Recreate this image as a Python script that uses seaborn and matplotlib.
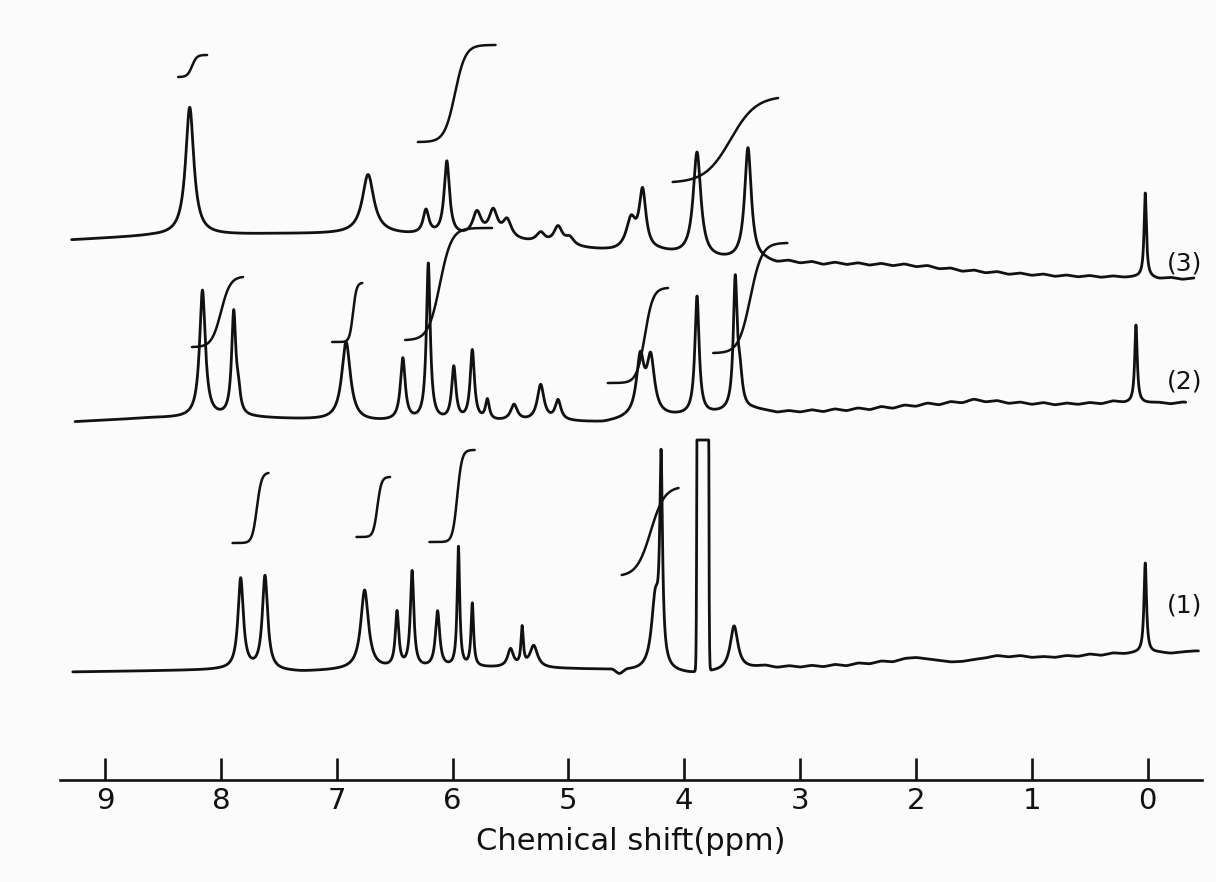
import numpy as np
import matplotlib
matplotlib.use("Agg")
import matplotlib.pyplot as plt
import seaborn as sns

sns.set_theme(style="white")
plt.rcParams['font.family'] = ['DejaVu Sans']

# ---------------- axis / text ----------------
tick_values = [9, 8, 7, 6, 5, 4, 3, 2, 1, 0]
tick_labels = ["9", "8", "7", "6", "5", "4", "3", "2", "1", "0"]
x_label = "Chemical shift(ppm)"
spectrum_names = ["(3)", "(2)", "(1)"]
name_levels = [516, 399, 174]

# shared ppm positions of the baseline ripple (right-hand flat region)
ripple_ppm = [3.30, 3.20, 3.10, 3.00, 2.90, 2.80, 2.70, 2.60, 2.50, 2.40, 2.30, 2.20, 2.10,
              2.00, 1.90, 1.80, 1.70, 1.60, 1.50, 1.40, 1.30, 1.20, 1.10, 1.00, 0.90, 0.80,
              0.70, 0.60, 0.50, 0.40, 0.30, 0.20, 0.10, 0.00, -0.10, -0.20, -0.30, -0.40]

# ---------------- spectrum (3) ----------------
s3_peak_ppm = [8.27, 6.73, 6.23, 6.05, 5.79, 5.65, 5.53, 5.24, 5.09, 4.99, 4.46, 4.36, 3.89, 3.45, 0.02]
s3_peak_height = [128, 59, 24, 74, 24, 26, 18, 10, 18, 8, 30, 58, 105, 113, 84]
s3_peak_hw = [0.043, 0.06, 0.03, 0.028, 0.045, 0.045, 0.045, 0.045, 0.045, 0.045, 0.05, 0.035, 0.04, 0.035, 0.012]
s3_peak_shape = ["L"] * 15
s3_base_ppm = [9.30, 8.60, 7.50, 6.60, 5.60, 5.00, 4.60, 4.20, 3.80, 3.40]
s3_base_level = [540, 544, 546, 546, 540, 532, 528, 527, 520, 518]
s3_ripple_level = [518, 516, 518.5, 516, 518, 515, 517.5, 515, 517, 514.5, 516.5, 514, 516,
                   513, 514.5, 511, 512, 508.5, 510, 507, 508.5, 505.5, 507, 504.5, 506, 503.5,
                   505, 503, 504.5, 502.5, 504, 502.5, 503, 503, 501, 502.5, 500.5, 502]
s3_span = (9.29, -0.40)
s3_int_from = [8.37, 6.30, 4.10]
s3_int_to = [8.12, 5.63, 3.19]
s3_int_lo = [703, 638, 598]
s3_int_hi = [725, 735, 682]
s3_int_mid = [8.25, 5.98, 3.60]
s3_int_sharp = [0.04, 0.09, 0.22]

# ---------------- spectrum (2) ----------------
s2_peak_ppm = [8.16, 7.89, 7.85, 6.92, 6.43, 6.21, 5.99, 5.83, 5.70, 5.47, 5.24, 5.09, 4.38, 4.29, 3.89, 3.56, 3.52, 0.10]
s2_peak_height = [127, 103, 18, 79, 62, 157, 53, 70, 20, 16, 36, 20, 58, 56, 118, 128, 30, 78]
s2_peak_hw = [0.03, 0.022, 0.02, 0.045, 0.025, 0.02, 0.022, 0.022, 0.02, 0.035, 0.035, 0.03, 0.04, 0.04, 0.022, 0.02, 0.025, 0.013]
s2_peak_shape = ["L"] * 18
s2_base_ppm = [9.30, 8.60, 7.70, 7.20, 6.80, 6.00, 5.00, 4.70, 4.50, 3.80, 3.40]
s2_base_level = [358, 362, 362, 360, 358, 358, 358, 357, 360, 365, 370]
s2_ripple_level = [369, 367, 369, 367.5, 370, 368, 371, 369, 372, 370, 373.5, 371.5, 375,
                   373.5, 377, 375, 378.5, 377, 381, 378, 379.5, 376.5, 378, 375.5, 377.5, 375,
                   377, 375.5, 377.5, 376, 379, 377, 377, 377, 377.5, 376, 378, 377]
s2_span = (9.26, -0.33)
s2_int_from = [8.25, 7.04, 6.41, 4.66, 3.75]
s2_int_to = [7.81, 6.78, 5.66, 4.14, 3.11]
s2_int_lo = [433, 438, 440, 397, 427]
s2_int_hi = [503, 497, 552, 492, 537]
s2_int_mid = [8.00, 6.86, 6.11, 4.34, 3.43]
s2_int_sharp = [0.08, 0.03, 0.10, 0.07, 0.10]

# ---------------- spectrum (1) ----------------
s1_peak_ppm = [7.83, 7.62, 6.76, 6.48, 6.35, 6.13, 5.95, 5.83, 5.50, 5.40, 5.30, 4.25, 4.20, 3.84, 3.57, 0.02]
s1_peak_height = [91, 94, 79, 55, 96, 56, 120, 63, 18, 38, 22, 70, 196, 1e6, 44, 90]
s1_peak_hw = [0.028, 0.028, 0.04, 0.018, 0.018, 0.022, 0.013, 0.013, 0.03, 0.012, 0.04, 0.04, 0.014, 0.0127, 0.04, 0.013]
s1_peak_shape = ["L"] * 13 + ["G"] + ["L"] * 2
s1_clip_level = 340
s1_base_ppm = [9.30, 8.00, 7.30, 6.90, 5.70, 5.00, 4.62, 4.56, 4.50, 3.95, 3.70, 3.40]
s1_base_level = [108, 110, 108, 110, 112, 111, 110, 104, 109, 106, 108, 112]
s1_ripple_level = [114, 112, 114, 112.5, 114.5, 113, 115.5, 114, 117, 116, 119, 118, 121.5,
                   122.5, 121, 119.5, 118, 118.5, 120.5, 122, 124.5, 123, 124.5, 122.5, 123.5, 122.5,
                   124.5, 123.5, 126, 124.5, 127, 126, 127, 127, 127.5, 126.5, 128, 129]
s1_span = (9.28, -0.44)
s1_int_from = [7.90, 6.83, 6.20, 4.54]
s1_int_to = [7.59, 6.54, 5.81, 4.05]
s1_int_lo = [237, 243, 238, 205]
s1_int_hi = [307, 303, 330, 292]
s1_int_mid = [7.69, 6.65, 5.96, 4.29]
s1_int_sharp = [0.04, 0.035, 0.04, 0.12]

# ---------------- helpers ----------------
ppm = np.linspace(9.39, -0.47, 9000)


def build_trace(base_ppm, base_level, ripple_level, pk_ppm, pk_h, pk_w, pk_shape, span, clip=None):
    bp = np.array(list(base_ppm) + list(ripple_ppm))
    bl = np.array(list(base_level) + list(ripple_level))
    order = np.argsort(bp)
    base = np.interp(ppm, bp[order], bl[order])
    k = 61
    kern = np.hanning(k)
    kern /= kern.sum()
    base = np.convolve(np.pad(base, k // 2, mode='edge'), kern, mode='valid')
    sig = np.zeros_like(ppm)
    for c, h, w, shp in zip(pk_ppm, pk_h, pk_w, pk_shape):
        d = (ppm - c) / w
        if shp == "G":
            sig += h * np.exp(-0.5 * d ** 2)
        else:
            sig += h / (1.0 + d ** 2)
    y = base + sig
    if clip is not None:
        y = np.minimum(y, clip)
    m = (ppm <= span[0]) & (ppm >= span[1])
    return ppm[m], y[m]


def build_integral(f, t, lo, hi, mid, s):
    xs = np.linspace(f, t, 400)
    g = np.tanh((mid - xs) / s)
    g = (g - g[0]) / (g[-1] - g[0])
    return xs, lo + (hi - lo) * g


# ---------------- figure ----------------
fig = plt.figure(figsize=(12.16, 8.82), dpi=100)
fig.patch.set_facecolor('#fbfbfb')
ax = fig.add_axes([60 / 1216, 102 / 882, 1142 / 1216, 760 / 882])
ax.set_facecolor('#fbfbfb')

ink = '#111111'
lw = 2.0

spectra = [
    (s3_base_ppm, s3_base_level, s3_ripple_level, s3_peak_ppm, s3_peak_height, s3_peak_hw, s3_peak_shape,
     s3_span, None, (s3_int_from, s3_int_to, s3_int_lo, s3_int_hi, s3_int_mid, s3_int_sharp)),
    (s2_base_ppm, s2_base_level, s2_ripple_level, s2_peak_ppm, s2_peak_height, s2_peak_hw, s2_peak_shape,
     s2_span, None, (s2_int_from, s2_int_to, s2_int_lo, s2_int_hi, s2_int_mid, s2_int_sharp)),
    (s1_base_ppm, s1_base_level, s1_ripple_level, s1_peak_ppm, s1_peak_height, s1_peak_hw, s1_peak_shape,
     s1_span, s1_clip_level, (s1_int_from, s1_int_to, s1_int_lo, s1_int_hi, s1_int_mid, s1_int_sharp)),
]

for bpm, blv, rlv, pp, ph, pw, pshape, span, clip, ints in spectra:
    x, y = build_trace(bpm, blv, rlv, pp, ph, pw, pshape, span, clip)
    sns.lineplot(x=x, y=y, ax=ax, color=ink, linewidth=lw, sort=False, estimator=None)
    for f, t, lo, hi, mid, s in zip(*ints):
        xi, yi = build_integral(f, t, lo, hi, mid, s)
        sns.lineplot(x=xi, y=yi, ax=ax, color=ink, linewidth=lw * 0.9, sort=False, estimator=None)

for name, lvl in zip(spectrum_names, name_levels):
    ax.text(-0.17, lvl, name, fontsize=18, ha='left', va='center', color=ink)

ax.set_xlim(9.39, -0.47)
ax.set_ylim(0, 760)
ax.set_xticks(tick_values)
ax.set_xticklabels(tick_labels)
ax.set_yticks([])
ax.set_ylabel("")
ax.set_xlabel(x_label, fontsize=22, color=ink, labelpad=9)
ax.tick_params(axis='x', bottom=True, direction='in', length=16, width=1.9,
               pad=5, labelsize=21, color=ink, labelcolor=ink)
for side in ['left', 'right', 'top']:
    ax.spines[side].set_visible(False)
ax.spines['bottom'].set_linewidth(1.9)
ax.spines['bottom'].set_color(ink)
ax.grid(False)

fig.savefig("out.png", dpi=100, facecolor=fig.get_facecolor())
